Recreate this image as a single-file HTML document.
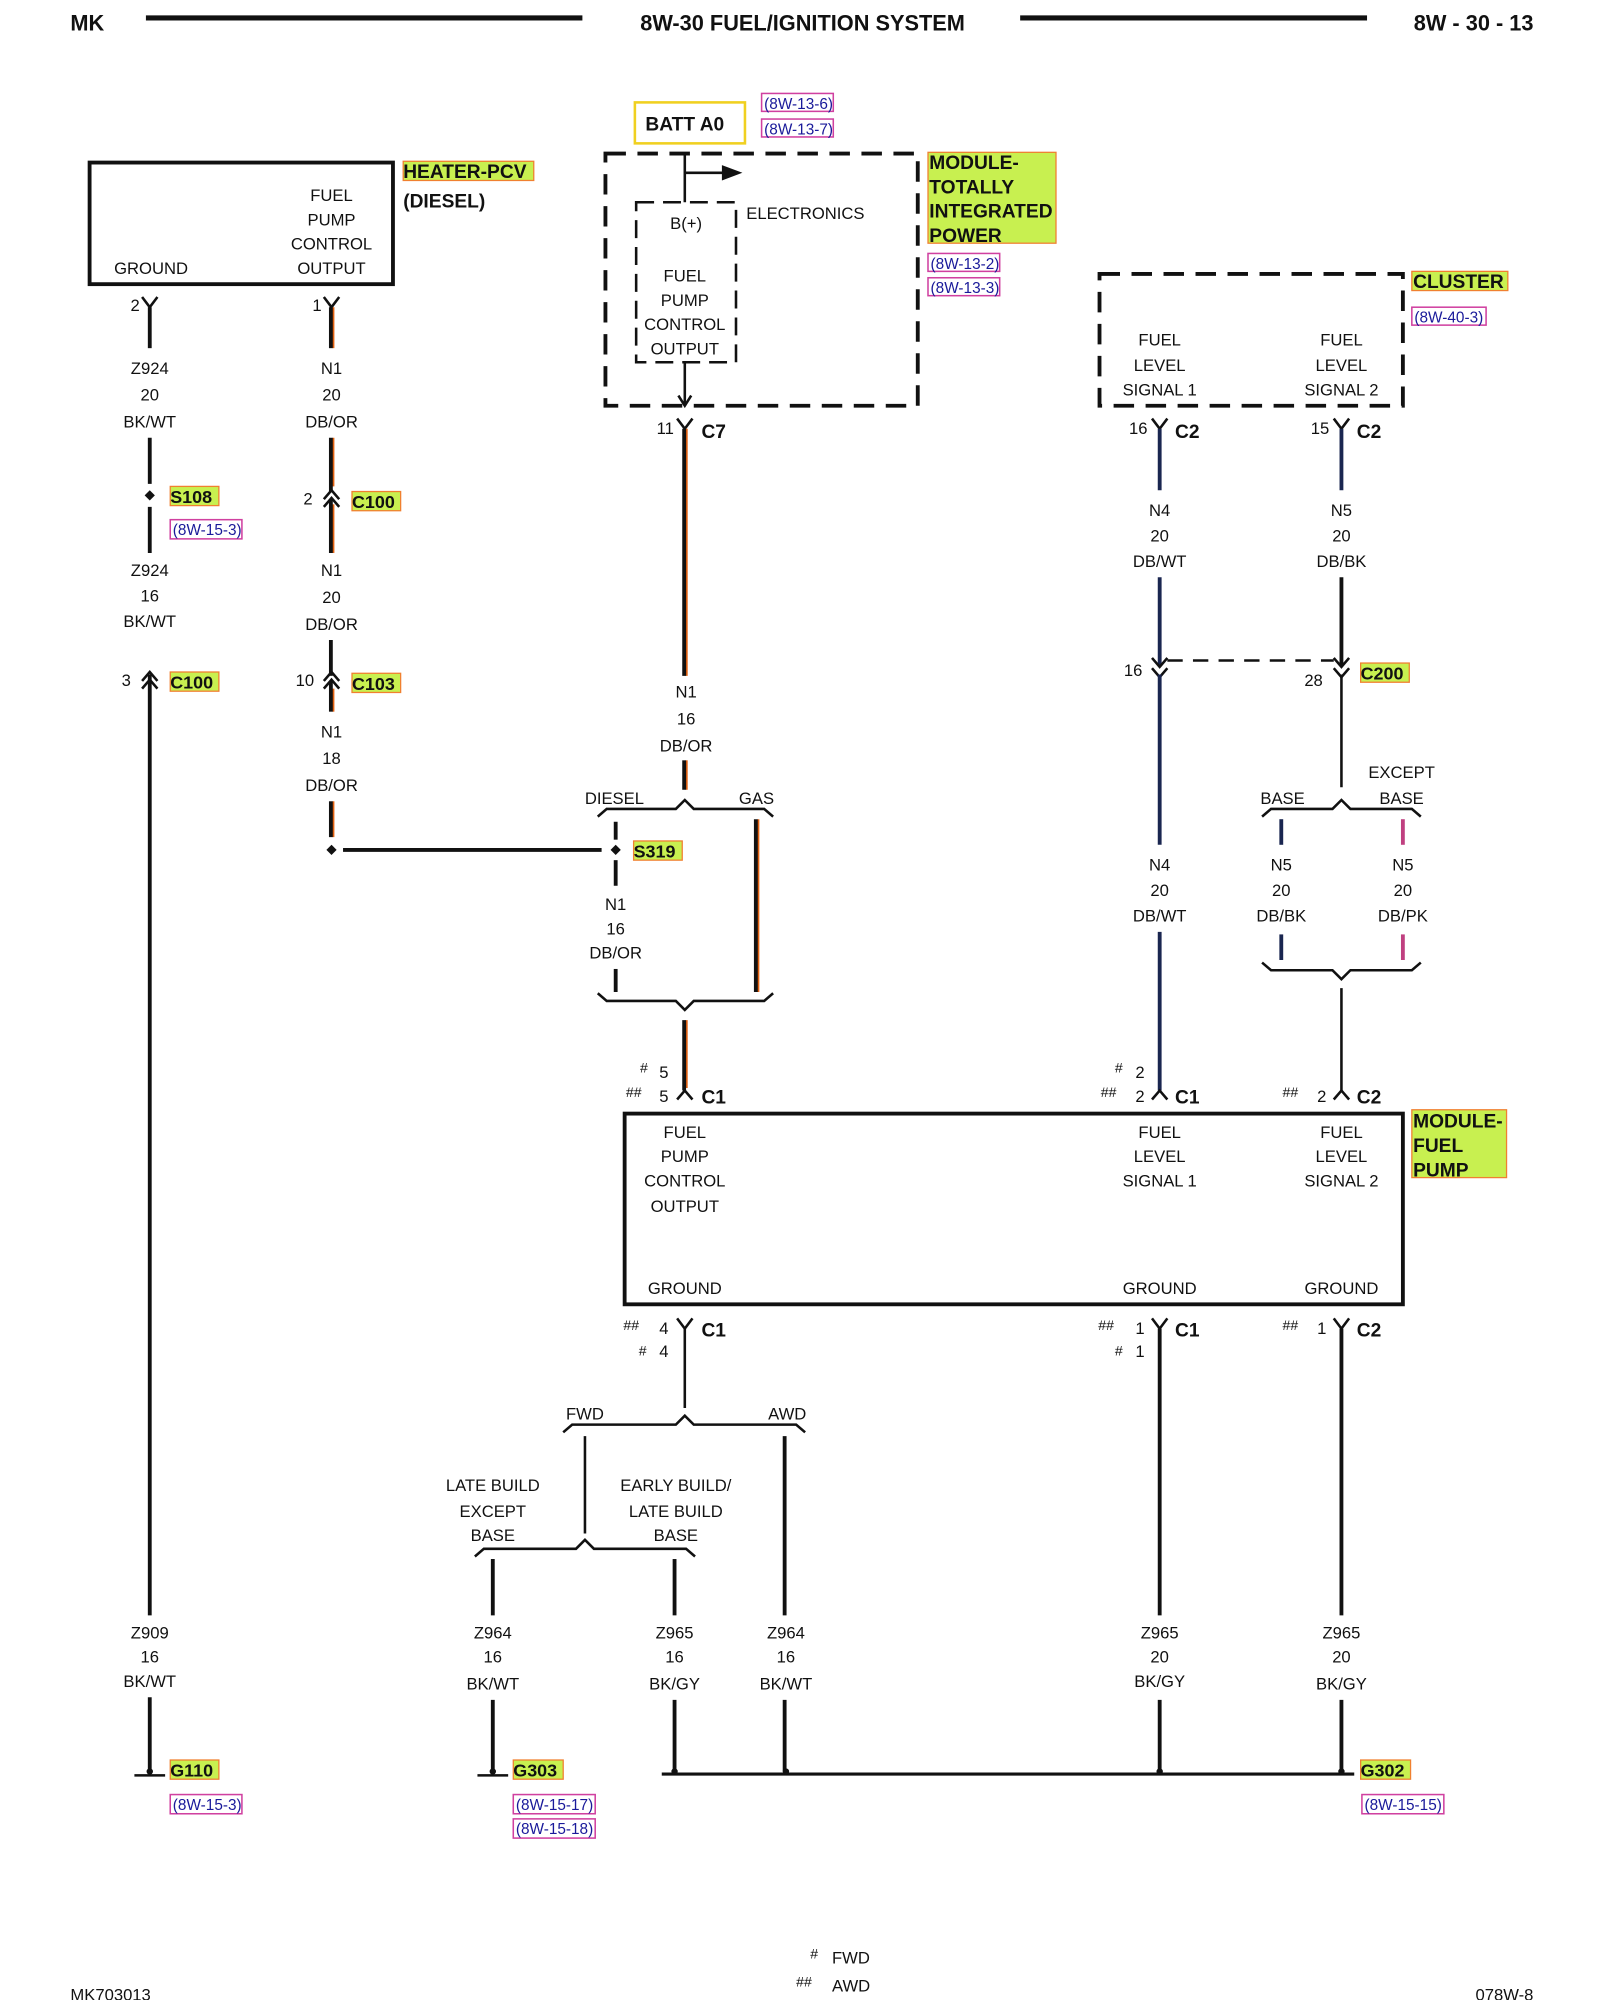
<!DOCTYPE html>
<html><head><meta charset="utf-8"><style>
html,body{margin:0;padding:0;background:#fff}
svg{display:block}
text{font-family:"Liberation Sans",sans-serif;font-size:13px;fill:#111}
.c{text-anchor:middle}
.b{font-weight:bold}
.h{font-size:15px;font-weight:bold}
.r{font-size:12px;fill:#1a1a9a}
.w{stroke:#111;stroke-width:3;fill:none}
.o{stroke:#e06010;stroke-width:1.5;fill:none}
.bl{stroke:#1a2650;stroke-width:3;fill:none}
.t{stroke:#111;stroke-width:2;fill:none}
.lab{fill:#c8f050;stroke:#f08030;stroke-width:1}
.rb{fill:none;stroke:#d040a0;stroke-width:1.2}
</style></head><body>
<svg width="1600" height="2000" viewBox="0 0 1250 1562.5" xmlns="http://www.w3.org/2000/svg">
<!-- header -->
<text x="55" y="24" class="b" style="font-size:17px">MK</text>
<line x1="114" y1="14" x2="455" y2="14" stroke="#111" stroke-width="4"/>
<text x="627" y="24" class="b c" style="font-size:17px">8W-30 FUEL/IGNITION SYSTEM</text>
<line x1="797" y1="14" x2="1068" y2="14" stroke="#111" stroke-width="4"/>
<text x="1198" y="24" class="b" text-anchor="end" style="font-size:17px">8W - 30 - 13</text>

<!-- heater box -->
<rect x="70" y="127" width="237" height="95" fill="none" stroke="#111" stroke-width="3"/>
<text x="259" y="157" class="c">FUEL</text><text x="259" y="176" class="c">PUMP</text>
<text x="259" y="195" class="c">CONTROL</text><text x="259" y="214" class="c">OUTPUT</text>
<text x="118" y="214" class="c">GROUND</text>
<rect x="315" y="126" width="102" height="15" class="lab"/>
<text x="315" y="139" class="h">HEATER-PCV</text>
<text x="315" y="162" class="h">(DIESEL)</text>

<!-- col 117 -->
<path class="t" d="M111 232 L117 240 L123 232"/><text x="102" y="243">2</text>
<line class="w" x1="117" y1="240" x2="117" y2="272"/>
<text x="117" y="292" class="c">Z924</text><text x="117" y="313" class="c">20</text><text x="117" y="334" class="c">BK/WT</text>
<line class="w" x1="117" y1="342" x2="117" y2="378"/>
<path d="M117 383 L121 387 L117 391 L113 387Z" fill="#111"/>
<rect x="133" y="380" width="38" height="15" class="lab"/><text x="133" y="393" class="b" style="font-size:14px">S108</text>
<rect x="133" y="406" width="56" height="15" class="rb"/><text x="135" y="418" class="r">(8W-15-3)</text>
<line class="w" x1="117" y1="396" x2="117" y2="432"/>
<text x="117" y="450" class="c">Z924</text><text x="117" y="470" class="c">16</text><text x="117" y="490" class="c">BK/WT</text>
<path class="t" d="M111 532 L117 525 L123 532 M111 538 L117 531 L123 538"/><text x="95" y="536">3</text>
<rect x="133" y="525" width="38" height="15" class="lab"/><text x="133" y="538" class="b" style="font-size:14px">C100</text>
<line class="w" x1="117" y1="527" x2="117" y2="1262"/>
<text x="117" y="1280" class="c">Z909</text><text x="117" y="1299" class="c">16</text><text x="117" y="1318" class="c">BK/WT</text>
<line class="w" x1="117" y1="1326" x2="117" y2="1384"/>
<line class="t" x1="105" y1="1387" x2="129" y2="1387"/><circle cx="117" cy="1384" r="2.5" fill="#111"/>
<rect x="133" y="1375" width="38" height="15" class="lab"/><text x="133" y="1388" class="b" style="font-size:14px">G110</text>
<rect x="133" y="1402" width="56" height="15" class="rb"/><text x="135" y="1414" class="r">(8W-15-3)</text>

<!-- col 259 -->
<path class="t" d="M253 232 L259 240 L265 232"/><text x="244" y="243">1</text>
<line class="o" x1="260.5" y1="240" x2="260.5" y2="272"/><line class="w" x1="258.5" y1="240" x2="258.5" y2="272"/>
<text x="259" y="292" class="c">N1</text><text x="259" y="313" class="c">20</text><text x="259" y="334" class="c">DB/OR</text>
<line class="o" x1="260.5" y1="342" x2="260.5" y2="380"/><line class="w" x1="258.5" y1="342" x2="258.5" y2="384"/>
<path class="t" d="M253 390 L259 383 L265 390 M253 396 L259 389 L265 396"/><text x="237" y="394">2</text>
<rect x="275" y="384" width="38" height="15" class="lab"/><text x="275" y="397" class="b" style="font-size:14px">C100</text>
<line class="o" x1="260.5" y1="394" x2="260.5" y2="432"/><line class="w" x1="258.5" y1="390" x2="258.5" y2="432"/>
<text x="259" y="450" class="c">N1</text><text x="259" y="471" class="c">20</text><text x="259" y="492" class="c">DB/OR</text>
<line class="w" x1="258.5" y1="500" x2="258.5" y2="528"/>
<path class="t" d="M253 532 L259 525 L265 532 M253 538 L259 531 L265 538"/><text x="231" y="536">10</text>
<rect x="275" y="526" width="38" height="15" class="lab"/><text x="275" y="539" class="b" style="font-size:14px">C103</text>
<line class="o" x1="260.5" y1="538" x2="260.5" y2="556"/><line class="w" x1="258.5" y1="532" x2="258.5" y2="556"/>
<text x="259" y="576" class="c">N1</text><text x="259" y="597" class="c">18</text><text x="259" y="618" class="c">DB/OR</text>
<line class="o" x1="260.5" y1="626" x2="260.5" y2="654"/><line class="w" x1="258.5" y1="626" x2="258.5" y2="654"/>
<path d="M259 660 L263 664 L259 668 L255 664Z" fill="#111"/>
<line class="w" x1="268" y1="664" x2="470" y2="664"/>

<!-- BATT A0 -->
<rect x="496" y="80" width="86" height="32" fill="none" stroke="#f0d020" stroke-width="2"/>
<text x="535" y="102" class="h c">BATT A0</text>
<rect x="595" y="73" width="56" height="14" class="rb"/><text x="597" y="85" class="r">(8W-13-6)</text>
<rect x="595" y="93" width="56" height="14" class="rb"/><text x="597" y="105" class="r">(8W-13-7)</text>

<!-- TIPM -->
<rect x="473" y="120" width="244" height="197" fill="none" stroke="#111" stroke-width="3" stroke-dasharray="16,9"/>
<rect x="497" y="158" width="78" height="125" fill="none" stroke="#111" stroke-width="2" stroke-dasharray="14,7"/>
<line class="t" x1="535" y1="120" x2="535" y2="158"/>
<line class="t" x1="535" y1="135" x2="566" y2="135"/><path d="M564 129 L580 135 L564 141Z" fill="#111"/>
<text x="583" y="171">ELECTRONICS</text>
<text x="536" y="179" class="c">B(+)</text>
<text x="535" y="220" class="c">FUEL</text><text x="535" y="239" class="c">PUMP</text>
<text x="535" y="258" class="c">CONTROL</text><text x="535" y="277" class="c">OUTPUT</text>
<line class="t" x1="535" y1="283" x2="535" y2="317"/><path class="t" d="M530 309 L535 317 L540 309"/>
<rect x="725" y="119" width="100" height="71" class="lab"/>
<text x="726" y="132" class="h">MODULE-</text><text x="726" y="151" class="h">TOTALLY</text>
<text x="726" y="170" class="h">INTEGRATED</text><text x="726" y="189" class="h">POWER</text>
<rect x="725" y="198" width="56" height="14" class="rb"/><text x="727" y="210" class="r">(8W-13-2)</text>
<rect x="725" y="217" width="56" height="14" class="rb"/><text x="727" y="229" class="r">(8W-13-3)</text>

<!-- C7 wire -->
<path class="t" d="M529 327 L535 335 L541 327"/><text x="513" y="339">11</text>
<text x="548" y="342" class="b" style="font-size:15px">C7</text>
<line class="o" x1="536.5" y1="335" x2="536.5" y2="528"/><line class="w" x1="534.5" y1="335" x2="534.5" y2="528"/>
<text x="536" y="545" class="c">N1</text><text x="536" y="566" class="c">16</text><text x="536" y="587" class="c">DB/OR</text>
<line class="o" x1="536.5" y1="594" x2="536.5" y2="617"/><line class="w" x1="534.5" y1="594" x2="534.5" y2="617"/>
<text x="480" y="628" class="c">DIESEL</text><text x="591" y="628" class="c">GAS</text>
<path class="t" d="M467 638 L474 632 L528 632 L535 625 L542 632 L597 632 L604 638"/>
<line class="w" x1="481" y1="642" x2="481" y2="656"/>
<path d="M481 660 L485 664 L481 668 L477 664Z" fill="#111"/>
<line class="w" x1="481" y1="672" x2="481" y2="692"/>
<rect x="495" y="657" width="38" height="15" class="lab"/><text x="495" y="670" class="b" style="font-size:14px">S319</text>
<text x="481" y="711" class="c">N1</text><text x="481" y="730" class="c">16</text><text x="481" y="749" class="c">DB/OR</text>
<line class="w" x1="481" y1="757" x2="481" y2="775"/>
<line class="o" x1="592.5" y1="640" x2="592.5" y2="775"/><line class="w" x1="590.5" y1="640" x2="590.5" y2="775"/>
<path class="t" d="M467 776 L474 782 L528 782 L535 789 L542 782 L597 782 L604 776"/>
<line class="o" x1="536.5" y1="797" x2="536.5" y2="850"/><line class="w" x1="534.5" y1="797" x2="534.5" y2="852"/>
<text x="500" y="838" style="font-size:11px">#</text><text x="515" y="842">5</text>
<text x="489" y="857" style="font-size:11px">##</text><text x="515" y="861">5</text>
<path class="t" d="M529 859 L535 852 L541 859"/>
<text x="548" y="862" class="b" style="font-size:15px">C1</text>

<!-- Cluster -->
<rect x="859" y="214" width="237" height="103" fill="none" stroke="#111" stroke-width="3" stroke-dasharray="16,9"/>
<rect x="1103" y="212" width="75" height="15" class="lab"/><text x="1104" y="225" class="h">CLUSTER</text>
<rect x="1103" y="240" width="58" height="14" class="rb"/><text x="1105" y="252" class="r">(8W-40-3)</text>
<text x="906" y="270" class="c">FUEL</text><text x="906" y="290" class="c">LEVEL</text><text x="906" y="309" class="c">SIGNAL 1</text>
<text x="1048" y="270" class="c">FUEL</text><text x="1048" y="290" class="c">LEVEL</text><text x="1048" y="309" class="c">SIGNAL 2</text>
<path class="t" d="M900 327 L906 335 L912 327"/><text x="882" y="339">16</text><text x="918" y="342" class="b" style="font-size:15px">C2</text>
<path class="t" d="M1042 327 L1048 335 L1054 327"/><text x="1024" y="339">15</text><text x="1060" y="342" class="b" style="font-size:15px">C2</text>
<line class="bl" x1="906" y1="335" x2="906" y2="383"/><line class="bl" x1="1048" y1="335" x2="1048" y2="383"/>
<text x="906" y="403" class="c">N4</text><text x="906" y="423" class="c">20</text><text x="906" y="443" class="c">DB/WT</text>
<text x="1048" y="403" class="c">N5</text><text x="1048" y="423" class="c">20</text><text x="1048" y="443" class="c">DB/BK</text>
<line class="bl" x1="906" y1="451" x2="906" y2="520"/><line class="w" x1="1048" y1="451" x2="1048" y2="520"/>
<path class="t" d="M900 514 L906 521 L912 514 M900 522 L906 529 L912 522"/>
<path class="t" d="M1042 514 L1048 521 L1054 514 M1042 522 L1048 529 L1054 522"/>
<line x1="912" y1="516" x2="1042" y2="516" stroke="#111" stroke-width="2" stroke-dasharray="12,8"/>
<text x="878" y="528">16</text><text x="1019" y="536">28</text>
<rect x="1063" y="518" width="38" height="15" class="lab"/><text x="1063" y="531" class="b" style="font-size:14px">C200</text>
<line class="bl" x1="906" y1="527" x2="906" y2="660"/>
<line class="t" x1="1048" y1="527" x2="1048" y2="615"/>
<text x="1002" y="628" class="c">BASE</text><text x="1095" y="608" class="c">EXCEPT</text><text x="1095" y="628" class="c">BASE</text>
<path class="t" d="M986 638 L993 632 L1041 632 L1048 625 L1055 632 L1103 632 L1110 638"/>
<line class="bl" x1="1001" y1="640" x2="1001" y2="660"/>
<line stroke="#c04080" stroke-width="3" x1="1096" y1="640" x2="1096" y2="660"/>
<text x="906" y="680" class="c">N4</text><text x="906" y="700" class="c">20</text><text x="906" y="720" class="c">DB/WT</text>
<text x="1001" y="680" class="c">N5</text><text x="1001" y="700" class="c">20</text><text x="1001" y="720" class="c">DB/BK</text>
<text x="1096" y="680" class="c">N5</text><text x="1096" y="700" class="c">20</text><text x="1096" y="720" class="c">DB/PK</text>
<line class="bl" x1="1001" y1="730" x2="1001" y2="750"/>
<line stroke="#c04080" stroke-width="3" x1="1096" y1="730" x2="1096" y2="750"/>
<path class="t" d="M986 752 L993 758 L1041 758 L1048 765 L1055 758 L1103 758 L1110 752"/>
<line class="bl" x1="906" y1="728" x2="906" y2="852"/>
<line class="t" x1="1048" y1="772" x2="1048" y2="852"/>
<text x="871" y="838" style="font-size:11px">#</text><text x="887" y="842">2</text>
<text x="860" y="857" style="font-size:11px">##</text><text x="887" y="861">2</text>
<path class="t" d="M900 859 L906 852 L912 859"/><text x="918" y="862" class="b" style="font-size:15px">C1</text>
<text x="1002" y="857" style="font-size:11px">##</text><text x="1029" y="861">2</text>
<path class="t" d="M1042 859 L1048 852 L1054 859"/><text x="1060" y="862" class="b" style="font-size:15px">C2</text>

<!-- Fuel pump module -->
<rect x="488" y="870" width="608" height="149" fill="none" stroke="#111" stroke-width="3"/>
<text x="535" y="889" class="c">FUEL</text><text x="535" y="908" class="c">PUMP</text>
<text x="535" y="927" class="c">CONTROL</text><text x="535" y="947" class="c">OUTPUT</text>
<text x="906" y="889" class="c">FUEL</text><text x="906" y="908" class="c">LEVEL</text><text x="906" y="927" class="c">SIGNAL 1</text>
<text x="1048" y="889" class="c">FUEL</text><text x="1048" y="908" class="c">LEVEL</text><text x="1048" y="927" class="c">SIGNAL 2</text>
<text x="535" y="1011" class="c">GROUND</text><text x="906" y="1011" class="c">GROUND</text><text x="1048" y="1011" class="c">GROUND</text>
<rect x="1103" y="867" width="74" height="53" class="lab"/>
<text x="1104" y="881" class="h">MODULE-</text><text x="1104" y="900" class="h">FUEL</text><text x="1104" y="919" class="h">PUMP</text>

<!-- bottom connectors -->
<text x="487" y="1039" style="font-size:11px">##</text><text x="515" y="1042">4</text>
<text x="499" y="1059" style="font-size:11px">#</text><text x="515" y="1060">4</text>
<path class="t" d="M529 1030 L535 1038 L541 1030"/><text x="548" y="1044" class="b" style="font-size:15px">C1</text>
<line class="t" x1="535" y1="1038" x2="535" y2="1100"/>
<text x="858" y="1039" style="font-size:11px">##</text><text x="887" y="1042">1</text>
<text x="871" y="1059" style="font-size:11px">#</text><text x="887" y="1060">1</text>
<path class="t" d="M900 1030 L906 1038 L912 1030"/><text x="918" y="1044" class="b" style="font-size:15px">C1</text>
<text x="1002" y="1039" style="font-size:11px">##</text><text x="1029" y="1042">1</text>
<path class="t" d="M1042 1030 L1048 1038 L1054 1030"/><text x="1060" y="1044" class="b" style="font-size:15px">C2</text>
<line class="w" x1="906" y1="1038" x2="906" y2="1262"/>
<line class="w" x1="1048" y1="1038" x2="1048" y2="1262"/>

<text x="457" y="1109" class="c">FWD</text><text x="615" y="1109" class="c">AWD</text>
<path class="t" d="M440 1119 L447 1113 L528 1113 L535 1106 L542 1113 L622 1113 L629 1119"/>
<line class="t" x1="457" y1="1122" x2="457" y2="1198"/>
<line class="w" x1="613" y1="1122" x2="613" y2="1262"/>
<text x="385" y="1165" class="c">LATE BUILD</text><text x="385" y="1185" class="c">EXCEPT</text><text x="385" y="1204" class="c">BASE</text>
<text x="528" y="1165" class="c">EARLY BUILD/</text><text x="528" y="1185" class="c">LATE BUILD</text><text x="528" y="1204" class="c">BASE</text>
<path class="t" d="M371 1216 L378 1210 L450 1210 L457 1203 L464 1210 L536 1210 L543 1216"/>
<line class="w" x1="385" y1="1218" x2="385" y2="1262"/>
<line class="w" x1="527" y1="1218" x2="527" y2="1262"/>

<text x="385" y="1280" class="c">Z964</text><text x="385" y="1299" class="c">16</text><text x="385" y="1320" class="c">BK/WT</text>
<text x="527" y="1280" class="c">Z965</text><text x="527" y="1299" class="c">16</text><text x="527" y="1320" class="c">BK/GY</text>
<text x="614" y="1280" class="c">Z964</text><text x="614" y="1299" class="c">16</text><text x="614" y="1320" class="c">BK/WT</text>
<text x="906" y="1280" class="c">Z965</text><text x="906" y="1299" class="c">20</text><text x="906" y="1318" class="c">BK/GY</text>
<text x="1048" y="1280" class="c">Z965</text><text x="1048" y="1299" class="c">20</text><text x="1048" y="1320" class="c">BK/GY</text>
<line class="w" x1="385" y1="1328" x2="385" y2="1384"/>
<line class="w" x1="527" y1="1328" x2="527" y2="1384"/>
<line class="w" x1="613" y1="1328" x2="613" y2="1384"/>
<line class="w" x1="906" y1="1328" x2="906" y2="1384"/>
<line class="w" x1="1048" y1="1328" x2="1048" y2="1384"/>
<line class="t" x1="373" y1="1387" x2="397" y2="1387"/><circle cx="385" cy="1384" r="2.5" fill="#111"/>
<line x1="517" y1="1386" x2="1058" y2="1386" stroke="#111" stroke-width="2.5"/>
<circle cx="527" cy="1384" r="2.5" fill="#111"/><circle cx="614" cy="1384" r="2.5" fill="#111"/>
<circle cx="906" cy="1384" r="2.5" fill="#111"/><circle cx="1048" cy="1384" r="2.5" fill="#111"/>
<rect x="401" y="1375" width="39" height="15" class="lab"/><text x="401" y="1388" class="b" style="font-size:14px">G303</text>
<rect x="401" y="1402" width="64" height="15" class="rb"/><text x="403" y="1414" class="r">(8W-15-17)</text>
<rect x="401" y="1421" width="64" height="15" class="rb"/><text x="403" y="1433" class="r">(8W-15-18)</text>
<rect x="1063" y="1375" width="39" height="15" class="lab"/><text x="1063" y="1388" class="b" style="font-size:14px">G302</text>
<rect x="1064" y="1402" width="64" height="15" class="rb"/><text x="1066" y="1414" class="r">(8W-15-15)</text>

<!-- footer -->
<text x="55" y="1563">MK703013</text>
<text x="633" y="1530" style="font-size:11px">#</text><text x="650" y="1534">FWD</text>
<text x="622" y="1552" style="font-size:11px">##</text><text x="650" y="1556">AWD</text>
<text x="1198" y="1563" text-anchor="end">078W-8</text>
</svg>
</body></html>
